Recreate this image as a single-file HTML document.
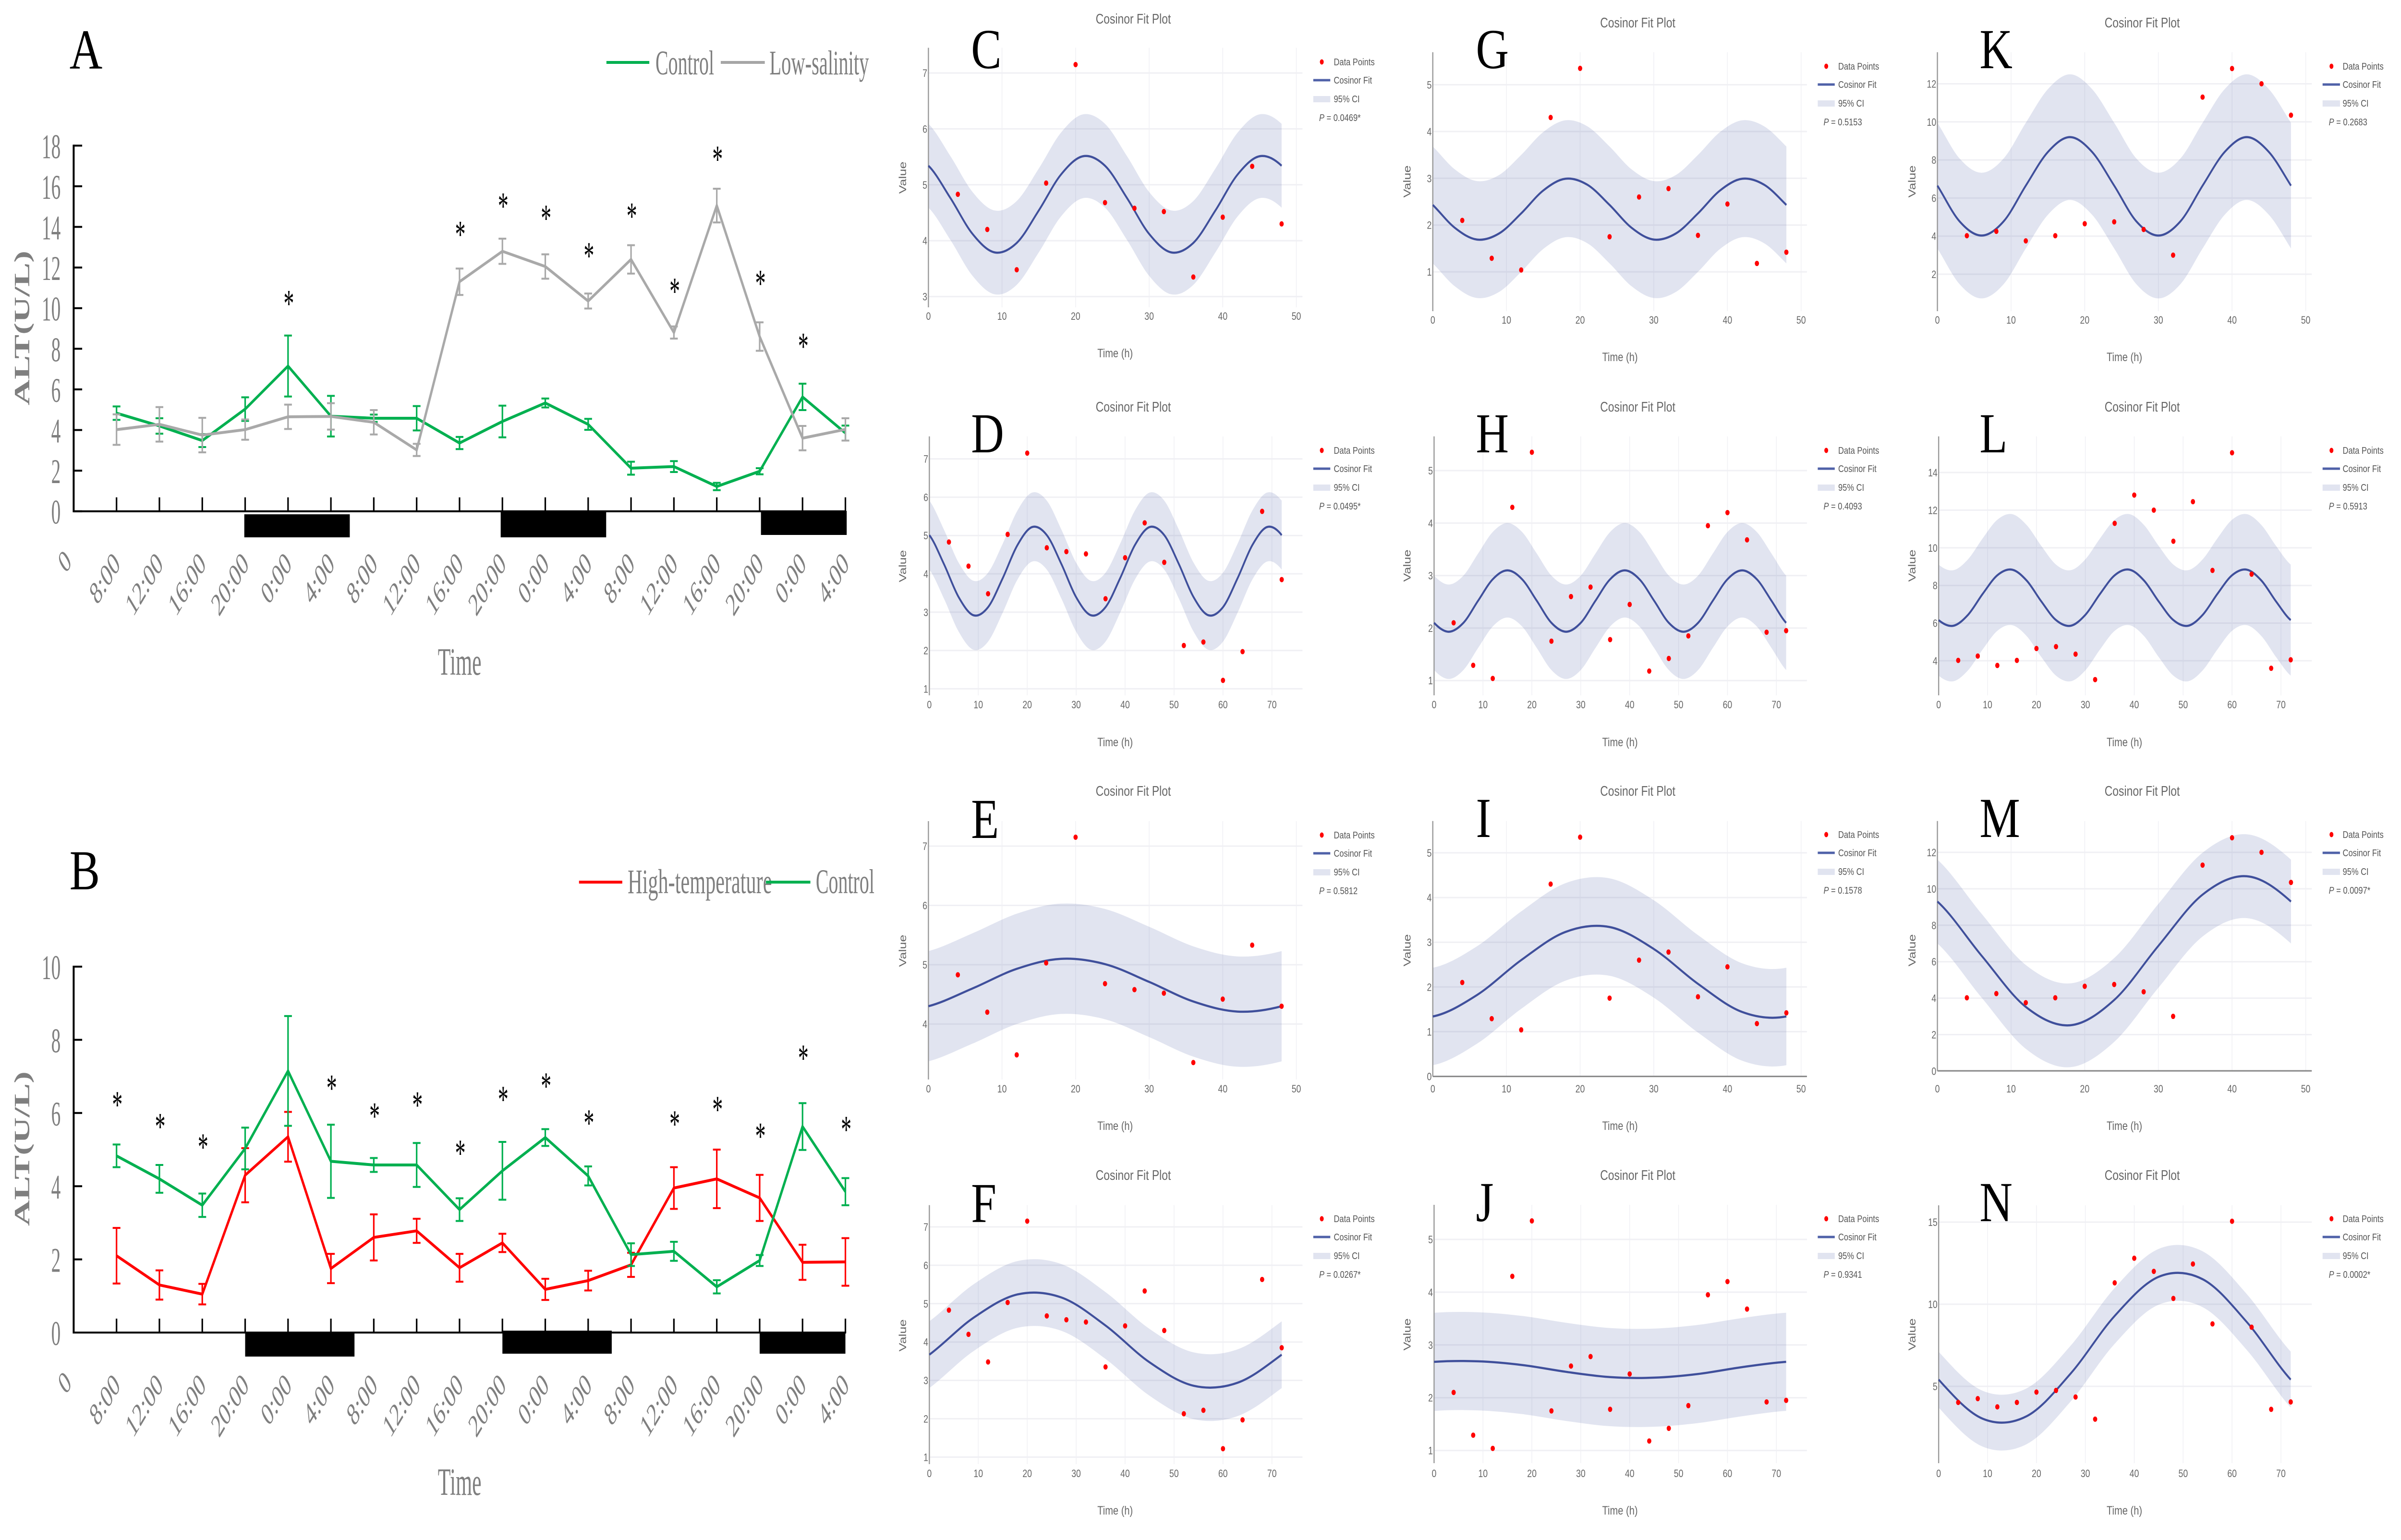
<!DOCTYPE html>
<html lang="en">
<head>
<meta charset="utf-8">
<title>ALT rhythm charts and cosinor fit plots</title>
<style>
html,body{margin:0;padding:0;background:#fff;overflow:hidden;width:100%}
svg{display:block;width:100vw;height:3207px}
text{font-family:"Liberation Sans",sans-serif}
.serif{font-family:"Liberation Serif",serif}
.letter{font-family:"Liberation Serif",serif;font-size:118px;fill:#000}
.gtext{font-family:"Liberation Serif",serif;font-size:72px;fill:#7f7f7f}
.gtitle{font-family:"Liberation Serif",serif;font-size:80px;fill:#7f7f7f;text-anchor:middle}
.galt{font-family:"Liberation Serif",serif;font-size:75px;font-weight:bold;fill:#7f7f7f;text-anchor:middle}
.ct{font-size:28.5px;fill:#666;text-anchor:middle}
.xt{font-size:25px;fill:#666;text-anchor:middle}
.yt{font-size:27px;fill:#666;text-anchor:middle}
.lg{font-size:20.5px;fill:#555}
.dot{fill:#ff0000}
.fitkey{stroke:#4f61a8;stroke-width:5}
.bandkey{fill:#e1e4f0}
</style>
</head>
<body>
<svg id="figure" xmlns="http://www.w3.org/2000/svg" viewBox="0 0 6216 3207" preserveAspectRatio="none">
<rect x="0" y="0" width="6216" height="3207" fill="#ffffff"/>
<g id="marks"></g>

<!-- Panel A text -->
<g>
<text class="letter" x="180" y="143">A</text>
<line x1="1570" x2="1681" y1="130" y2="130" stroke="#00b050" stroke-width="6"/>
<text class="gtext" transform="translate(1697,155) scale(.69,1)">Control</text>
<line x1="1866" x2="1980" y1="130" y2="130" stroke="#a6a6a6" stroke-width="6"/>
<text class="gtext" transform="translate(1992,155) scale(.7,1)">Low-salinity</text>
<text class="galt" transform="translate(76,683) scale(.75,1) rotate(-90)">ALT(U/L)</text>
<text class="gtitle" transform="translate(1190,1405) scale(.68,1)">Time</text>
</g>

<!-- Panel B text -->
<g>
<text class="letter" x="180" y="1852">B</text>
<line x1="1499" x2="1611" y1="1837" y2="1837" stroke="#ff0000" stroke-width="6"/>
<text class="gtext" transform="translate(1625,1860) scale(.73,1)">High-temperature</text>
<line x1="1983" x2="2098" y1="1837" y2="1837" stroke="#00b050" stroke-width="6"/>
<text class="gtext" transform="translate(2112,1860) scale(.69,1)">Control</text>
<text class="galt" transform="translate(76,2392) scale(.75,1) rotate(-90)">ALT(U/L)</text>
<text class="gtitle" transform="translate(1190,3113) scale(.68,1)">Time</text>
</g>

<!-- Panel C -->
<g>
<text class="letter" x="2514" y="142">C</text>
<text class="ct" x="2934" y="49">Cosinor Fit Plot</text>
<text class="xt" x="2887" y="744">Time (h)</text>
<text class="yt" transform="translate(2346,370) rotate(-90)">Value</text>
<g transform="translate(3422,129)">
<ellipse class="dot" cx="0" cy="0" rx="5" ry="5.5"/>
<text class="lg" x="31" y="7">Data Points</text>
<line class="fitkey" x1="-22" x2="22" y1="38" y2="38"/>
<text class="lg" x="31" y="45">Cosinor Fit</text>
<rect class="bandkey" x="-22" y="71" width="44" height="13"/>
<text class="lg" x="31" y="84">95% CI</text>
<text class="lg" x="-7" y="123"><tspan font-style="italic">P</tspan> = 0.0469*</text>
</g>
</g>

<!-- Panel D -->
<g>
<text class="letter" x="2514" y="942">D</text>
<text class="ct" x="2934" y="857">Cosinor Fit Plot</text>
<text class="xt" x="2887" y="1554">Time (h)</text>
<text class="yt" transform="translate(2346,1179) rotate(-90)">Value</text>
<g transform="translate(3422,938)">
<ellipse class="dot" cx="0" cy="0" rx="5" ry="5.5"/>
<text class="lg" x="31" y="7">Data Points</text>
<line class="fitkey" x1="-22" x2="22" y1="38" y2="38"/>
<text class="lg" x="31" y="45">Cosinor Fit</text>
<rect class="bandkey" x="-22" y="71" width="44" height="13"/>
<text class="lg" x="31" y="84">95% CI</text>
<text class="lg" x="-7" y="123"><tspan font-style="italic">P</tspan> = 0.0495*</text>
</g>
</g>

<!-- Panel E -->
<g>
<text class="letter" x="2514" y="1745">E</text>
<text class="ct" x="2934" y="1657">Cosinor Fit Plot</text>
<text class="xt" x="2887" y="2353">Time (h)</text>
<text class="yt" transform="translate(2346,1980) rotate(-90)">Value</text>
<g transform="translate(3422,1739)">
<ellipse class="dot" cx="0" cy="0" rx="5" ry="5.5"/>
<text class="lg" x="31" y="7">Data Points</text>
<line class="fitkey" x1="-22" x2="22" y1="38" y2="38"/>
<text class="lg" x="31" y="45">Cosinor Fit</text>
<rect class="bandkey" x="-22" y="71" width="44" height="13"/>
<text class="lg" x="31" y="84">95% CI</text>
<text class="lg" x="-7" y="123"><tspan font-style="italic">P</tspan> = 0.5812</text>
</g>
</g>

<!-- Panel F -->
<g>
<text class="letter" x="2514" y="2545">F</text>
<text class="ct" x="2934" y="2457">Cosinor Fit Plot</text>
<text class="xt" x="2887" y="3154">Time (h)</text>
<text class="yt" transform="translate(2346,2781) rotate(-90)">Value</text>
<g transform="translate(3422,2538)">
<ellipse class="dot" cx="0" cy="0" rx="5" ry="5.5"/>
<text class="lg" x="31" y="7">Data Points</text>
<line class="fitkey" x1="-22" x2="22" y1="38" y2="38"/>
<text class="lg" x="31" y="45">Cosinor Fit</text>
<rect class="bandkey" x="-22" y="71" width="44" height="13"/>
<text class="lg" x="31" y="84">95% CI</text>
<text class="lg" x="-7" y="123"><tspan font-style="italic">P</tspan> = 0.0267*</text>
</g>
</g>

<!-- Panel G -->
<g>
<text class="letter" x="3821" y="142">G</text>
<text class="ct" x="4240" y="57">Cosinor Fit Plot</text>
<text class="xt" x="4194" y="752">Time (h)</text>
<text class="yt" transform="translate(3652,378) rotate(-90)">Value</text>
<g transform="translate(4728,138)">
<ellipse class="dot" cx="0" cy="0" rx="5" ry="5.5"/>
<text class="lg" x="31" y="7">Data Points</text>
<line class="fitkey" x1="-22" x2="22" y1="38" y2="38"/>
<text class="lg" x="31" y="45">Cosinor Fit</text>
<rect class="bandkey" x="-22" y="71" width="44" height="13"/>
<text class="lg" x="31" y="84">95% CI</text>
<text class="lg" x="-7" y="123"><tspan font-style="italic">P</tspan> = 0.5153</text>
</g>
</g>

<!-- Panel H -->
<g>
<text class="letter" x="3821" y="942">H</text>
<text class="ct" x="4240" y="857">Cosinor Fit Plot</text>
<text class="xt" x="4194" y="1554">Time (h)</text>
<text class="yt" transform="translate(3652,1178) rotate(-90)">Value</text>
<g transform="translate(4728,938)">
<ellipse class="dot" cx="0" cy="0" rx="5" ry="5.5"/>
<text class="lg" x="31" y="7">Data Points</text>
<line class="fitkey" x1="-22" x2="22" y1="38" y2="38"/>
<text class="lg" x="31" y="45">Cosinor Fit</text>
<rect class="bandkey" x="-22" y="71" width="44" height="13"/>
<text class="lg" x="31" y="84">95% CI</text>
<text class="lg" x="-7" y="123"><tspan font-style="italic">P</tspan> = 0.4093</text>
</g>
</g>

<!-- Panel I -->
<g>
<text class="letter" x="3821" y="1743">I</text>
<text class="ct" x="4240" y="1657">Cosinor Fit Plot</text>
<text class="xt" x="4194" y="2353">Time (h)</text>
<text class="yt" transform="translate(3652,1979) rotate(-90)">Value</text>
<g transform="translate(4728,1738)">
<ellipse class="dot" cx="0" cy="0" rx="5" ry="5.5"/>
<text class="lg" x="31" y="7">Data Points</text>
<line class="fitkey" x1="-22" x2="22" y1="38" y2="38"/>
<text class="lg" x="31" y="45">Cosinor Fit</text>
<rect class="bandkey" x="-22" y="71" width="44" height="13"/>
<text class="lg" x="31" y="84">95% CI</text>
<text class="lg" x="-7" y="123"><tspan font-style="italic">P</tspan> = 0.1578</text>
</g>
</g>

<!-- Panel J -->
<g>
<text class="letter" x="3821" y="2543">J</text>
<text class="ct" x="4240" y="2457">Cosinor Fit Plot</text>
<text class="xt" x="4194" y="3154">Time (h)</text>
<text class="yt" transform="translate(3652,2779) rotate(-90)">Value</text>
<g transform="translate(4728,2538)">
<ellipse class="dot" cx="0" cy="0" rx="5" ry="5.5"/>
<text class="lg" x="31" y="7">Data Points</text>
<line class="fitkey" x1="-22" x2="22" y1="38" y2="38"/>
<text class="lg" x="31" y="45">Cosinor Fit</text>
<rect class="bandkey" x="-22" y="71" width="44" height="13"/>
<text class="lg" x="31" y="84">95% CI</text>
<text class="lg" x="-7" y="123"><tspan font-style="italic">P</tspan> = 0.9341</text>
</g>
</g>

<!-- Panel K -->
<g>
<text class="letter" x="5125" y="142">K</text>
<text class="ct" x="5546" y="57">Cosinor Fit Plot</text>
<text class="xt" x="5500" y="752">Time (h)</text>
<text class="yt" transform="translate(4959,378) rotate(-90)">Value</text>
<g transform="translate(6036,138)">
<ellipse class="dot" cx="0" cy="0" rx="5" ry="5.5"/>
<text class="lg" x="29" y="7">Data Points</text>
<line class="fitkey" x1="-23" x2="22" y1="38" y2="38"/>
<text class="lg" x="29" y="45">Cosinor Fit</text>
<rect class="bandkey" x="-23" y="71" width="45" height="13"/>
<text class="lg" x="29" y="84">95% CI</text>
<text class="lg" x="-7" y="123"><tspan font-style="italic">P</tspan> = 0.2683</text>
</g>
</g>

<!-- Panel L -->
<g>
<text class="letter" x="5125" y="942">L</text>
<text class="ct" x="5546" y="857">Cosinor Fit Plot</text>
<text class="xt" x="5500" y="1554">Time (h)</text>
<text class="yt" transform="translate(4959,1178) rotate(-90)">Value</text>
<g transform="translate(6036,938)">
<ellipse class="dot" cx="0" cy="0" rx="5" ry="5.5"/>
<text class="lg" x="29" y="7">Data Points</text>
<line class="fitkey" x1="-23" x2="22" y1="38" y2="38"/>
<text class="lg" x="29" y="45">Cosinor Fit</text>
<rect class="bandkey" x="-23" y="71" width="45" height="13"/>
<text class="lg" x="29" y="84">95% CI</text>
<text class="lg" x="-7" y="123"><tspan font-style="italic">P</tspan> = 0.5913</text>
</g>
</g>

<!-- Panel M -->
<g>
<text class="letter" x="5125" y="1743">M</text>
<text class="ct" x="5546" y="1657">Cosinor Fit Plot</text>
<text class="xt" x="5500" y="2353">Time (h)</text>
<text class="yt" transform="translate(4959,1979) rotate(-90)">Value</text>
<g transform="translate(6036,1738)">
<ellipse class="dot" cx="0" cy="0" rx="5" ry="5.5"/>
<text class="lg" x="29" y="7">Data Points</text>
<line class="fitkey" x1="-23" x2="22" y1="38" y2="38"/>
<text class="lg" x="29" y="45">Cosinor Fit</text>
<rect class="bandkey" x="-23" y="71" width="45" height="13"/>
<text class="lg" x="29" y="84">95% CI</text>
<text class="lg" x="-7" y="123"><tspan font-style="italic">P</tspan> = 0.0097*</text>
</g>
</g>

<!-- Panel N -->
<g>
<text class="letter" x="5125" y="2543">N</text>
<text class="ct" x="5546" y="2457">Cosinor Fit Plot</text>
<text class="xt" x="5500" y="3154">Time (h)</text>
<text class="yt" transform="translate(4959,2779) rotate(-90)">Value</text>
<g transform="translate(6036,2538)">
<ellipse class="dot" cx="0" cy="0" rx="5" ry="5.5"/>
<text class="lg" x="29" y="7">Data Points</text>
<line class="fitkey" x1="-23" x2="22" y1="38" y2="38"/>
<text class="lg" x="29" y="45">Cosinor Fit</text>
<rect class="bandkey" x="-23" y="71" width="45" height="13"/>
<text class="lg" x="29" y="84">95% CI</text>
<text class="lg" x="-7" y="123"><tspan font-style="italic">P</tspan> = 0.0002*</text>
</g>
</g>
</svg>

<script>
// ---------- Panels A and B: categories, series and error values ----------
const timeCategories = ['8:00','12:00','16:00','20:00','0:00','4:00','8:00','12:00','16:00','20:00','0:00','4:00','8:00','12:00','16:00','20:00','0:00','4:00'];
const yTicksA = [0,2,4,6,8,10,12,14,16,18];
const yTicksB = [0,2,4,6,8,10];

const controlValuesA = [4.83,4.2,3.48,5.03,7.15,4.68,4.58,4.58,3.36,4.42,5.33,4.28,2.12,2.2,1.22,1.97,5.63,3.85];
const controlErrorsA = [0.33,0.38,0.32,0.58,1.5,1.0,0.18,0.6,0.3,0.78,0.22,0.27,0.32,0.27,0.18,0.15,0.65,0.37];
const lowSalinityValues = [4.02,4.28,3.75,4.02,4.65,4.67,4.38,3.02,11.3,12.8,12.05,10.35,12.4,8.8,15.05,8.6,3.6,4.03];
const lowSalinityErrors = [0.75,0.85,0.85,0.5,0.6,0.65,0.6,0.3,0.65,0.62,0.6,0.37,0.7,0.3,0.83,0.7,0.6,0.55];
const starIndexA = [4,8,9,10,11,12,13,14,15,16];
const starLevelA = [10.5,13.9,15.3,14.7,12.85,14.8,11.1,17.6,11.5,8.4];
const nightStartsA = [3.98,9.96,16.03];
const nightEndsA = [6.44,12.42,18.03];

const controlValuesB = [4.83,4.2,3.48,5.03,7.15,4.68,4.58,4.58,3.36,4.42,5.33,4.28,2.13,2.22,1.25,1.97,5.63,3.85];
const controlErrorsB = [0.31,0.38,0.32,0.57,1.5,1.0,0.19,0.6,0.31,0.79,0.23,0.26,0.31,0.26,0.18,0.15,0.64,0.37];
const highTempValues = [2.1,1.3,1.05,4.3,5.35,1.75,2.6,2.78,1.77,2.45,1.18,1.42,1.85,3.95,4.2,3.68,1.92,1.93];
const highTempErrors = [0.76,0.4,0.28,0.74,0.68,0.4,0.63,0.33,0.38,0.25,0.29,0.27,0.33,0.57,0.8,0.63,0.48,0.65];
const starIndexB = [0,1,2,5,6,7,8,9,10,11,13,14,15,16,17];
const starLevelB = [6.38,5.78,5.22,6.83,6.07,6.37,5.05,6.52,6.89,5.88,5.85,6.25,5.52,7.65,5.7];
const nightStartsB = [4,10,16];
const nightEndsB = [6.55,12.55,18];

// ---------- Cosinor panels: measured points ----------
const hours48 = [4,8,12,16,20,24,28,32,36,40,44,48];
const hours72 = [4,8,12,16,20,24,28,32,36,40,44,48,52,56,60,64,68,72];
const pointsControl48 = [4.83,4.2,3.48,5.03,7.15,4.68,4.58,4.52,3.35,4.42,5.33,4.3];
const pointsControl72 = [4.83,4.2,3.48,5.03,7.15,4.68,4.58,4.52,3.35,4.42,5.33,4.3,2.13,2.22,1.22,1.97,5.63,3.85];
const pointsHigh48 = [2.1,1.29,1.04,4.3,5.35,1.75,2.6,2.78,1.78,2.45,1.18,1.42];
const pointsHigh72 = [2.1,1.29,1.04,4.3,5.35,1.75,2.6,2.78,1.78,2.45,1.18,1.42,1.85,3.95,4.2,3.68,1.92,1.95];
const pointsLow48 = [4.02,4.25,3.75,4.02,4.65,4.75,4.35,3.0,11.3,12.8,12.0,10.35];
const pointsLow72 = [4.02,4.25,3.75,4.02,4.65,4.75,4.35,3.0,11.3,12.8,12.0,10.35,12.45,8.8,15.05,8.6,3.6,4.05];

// ---------- Cosinor panels: fit curves read at sample hours ----------
const fitHours3h48 = [0,3,6,9,12,15,18,21,24,27,30,33,36,39,42,45,48];
const fitHours3h72 = [0,3,6,9,12,15,18,21,24,27,30,33,36,39,42,45,48,51,54,57,60,63,66,69,72];
const fitHours6h48 = [0,6,12,18,24,30,36,42,48];
const fitHours9h72 = [0,9,18,27,36,45,54,63,72];

const fitC = [5.34,4.76,4.12,3.79,3.96,4.54,5.18,5.51,5.34,4.76,4.12,3.79,3.96,4.54,5.18,5.51,5.34];
const fitD = [5.01,4.25,3.39,2.92,3.13,3.89,4.75,5.22,5.01,4.25,3.39,2.92,3.13,3.89,4.75,5.22,5.01,4.25,3.39,2.92,3.13,3.89,4.75,5.22,5.01];
const fitE = [4.30,4.60,4.93,5.10,5.01,4.71,4.38,4.21,4.30];
const fitF = [3.67,4.63,5.24,5.16,4.43,3.47,2.86,2.94,3.67];
const fitG = [2.43,1.94,1.69,1.82,2.25,2.74,2.99,2.86,2.43,1.94,1.69,1.82,2.25,2.74,2.99,2.86,2.43];
const fitH = [2.10,1.93,2.10,2.52,2.93,3.10,2.93,2.52,2.10,1.93,2.10,2.52,2.93,3.10,2.93,2.52,2.10,1.93,2.10,2.52,2.93,3.10,2.93,2.52,2.10];
const fitI = [1.34,1.82,2.60,3.23,3.34,2.85,2.07,1.44,1.34];
const fitJ = [2.68,2.69,2.62,2.49,2.39,2.38,2.45,2.58,2.68];
const fitK = [6.65,4.78,4.03,4.78,6.65,8.42,9.2,8.42,6.65,4.78,4.03,4.78,6.65,8.42,9.2,8.42,6.65];
const fitL = [6.16,5.86,6.44,7.55,8.54,8.84,8.26,7.15,6.16,5.86,6.44,7.55,8.54,8.84,8.26,7.15,6.16,5.86,6.44,7.55,8.54,8.84,8.26,7.15,6.16];
const fitM = [9.30,6.33,3.52,2.51,3.90,6.87,9.68,10.69,9.30];
const fitN = [5.41,3.03,3.18,5.78,9.29,11.67,11.52,8.92,5.41];

// 95% CI half-widths around each fit
const ciHalfC = [0.75];
const ciHalfD = [0.9];
const ciHalfE = [0.93];
const ciHalfF = [0.87];
const ciHalfG = [1.25];
const ciHalfH = [0.9];
const ciHalfI = [1.09];
const ciHalfJ = [0.93];
const ciHalfK = [3.3];
const ciHalfL = [2.95];
const ciHalfM = [2.3];
const ciHalfN = [1.7];

// Tick labels
const xTicks48 = [0,10,20,30,40,50];
const xTicks72 = [0,10,20,30,40,50,60,70];
const yTicksC = [3,4,5,6,7];
const yTicksD = [1,2,3,4,5,6,7];
const yTicksE = [4,5,6,7];
const yTicksG = [1,2,3,4,5];
const yTicksI = [0,1,2,3,4,5];
const yTicksK = [2,4,6,8,10,12];
const yTicksL = [4,6,8,10,12,14];
const yTicksM = [0,2,4,6,8,10,12];
const yTicksN = [5,10,15];

// ---------- Drawing helpers ----------
const NS = 'http://www.w3.org/2000/svg';
const root = document.getElementById('marks');
function svgEl(tag, attrs, parent) {
  const node = document.createElementNS(NS, tag);
  for (const key in attrs) node.setAttribute(key, attrs[key]);
  (parent || root).appendChild(node);
  return node;
}
function smooth(pts) {
  // Catmull-Rom through the read samples; end tangents wrap because each curve spans whole periods
  const n = pts.length;
  let d = '';
  for (let i = 0; i < n - 1; i++) {
    const p1 = pts[i], p2 = pts[i + 1];
    const p0 = i > 0 ? pts[i - 1] : [2 * p1[0] - p2[0], pts[n - 2][1]];
    const p3 = i < n - 2 ? pts[i + 2] : [2 * p2[0] - p1[0], pts[1][1]];
    const c1x = p1[0] + (p2[0] - p0[0]) / 6, c1y = p1[1] + (p2[1] - p0[1]) / 6;
    const c2x = p2[0] - (p3[0] - p1[0]) / 6, c2y = p2[1] - (p3[1] - p1[1]) / 6;
    d += ' C' + c1x.toFixed(1) + ' ' + c1y.toFixed(1) + ' ' + c2x.toFixed(1) + ' ' + c2y.toFixed(1) + ' ' + p2[0].toFixed(1) + ' ' + p2[1].toFixed(1);
  }
  return d;
}

// ---------- Excel-style panels ----------
function drawExcelPanel(cfg) {
  const xCat = function (k) { return cfg.x0 + k * cfg.step; };
  const xVal = function (i) { return xCat(i + 1); };
  const yVal = function (v) { return cfg.y0 - v * cfg.unit; };

  // axis lines
  const yAxis = svgEl('line', {x1: cfg.x0, x2: cfg.x0, y1: yVal(cfg.yTicks[cfg.yTicks.length - 1]) - 2, y2: cfg.y0 + 2, stroke: '#000', 'stroke-width': 5});
  
  
  const xAxis = svgEl('line', {x1: cfg.x0, x2: xCat(18) + 2, y1: cfg.y0, y2: cfg.y0, stroke: '#000', 'stroke-width': 4});
  
  

  // y ticks and labels
  cfg.yTicks.forEach(function (v) {
    const tick = svgEl('line', {x1: cfg.x0, x2: cfg.x0 + 22, y1: yVal(v), y2: yVal(v), stroke: '#000', 'stroke-width': 4});
    
    
    const label = svgEl('text', {'class': 'gtext', 'text-anchor': 'end', transform: 'translate(157,' + (yVal(v) + 26) + ') scale(.68,1)'});
    label.textContent = String(v);
    
    
  });

  // origin label
  const originLabel = svgEl('text', {'class': 'gtext', 'text-anchor': 'end', style: 'font-size:67px', transform: 'translate(' + (cfg.x0 - 3) + ',' + (cfg.y0 + 108) + ') scale(.74,1) rotate(-45)'});
  originLabel.textContent = '0';
  
  

  // x ticks and labels
  timeCategories.forEach(function (c, i) {
    const tick = svgEl('line', {x1: xVal(i), x2: xVal(i), y1: cfg.y0 - 29, y2: cfg.y0, stroke: '#000', 'stroke-width': 4});
    
    
    const label = svgEl('text', {'class': 'gtext', 'text-anchor': 'end', style: 'font-size:67px', transform: 'translate(' + (xVal(i) + 12) + ',' + (cfg.y0 + 113) + ') scale(.74,1) rotate(-45)'});
    label.textContent = c;
    
    
  });

  // night bars
  cfg.nightStarts.forEach(function (s, i) {
    const bar = svgEl('rect', {x: xCat(s), y: cfg.nightTop[i], width: xCat(cfg.nightEnds[i]) - xCat(s), height: cfg.nightHeight[i], fill: '#000'});
    
    
  });

  // series
  cfg.series.forEach(function (s) {
    const group = svgEl('g', {});
    
    
    s.values.forEach(function (v, i) {
      const x = xVal(i);
      const err = s.errors[i];
      const stem = svgEl('line', {x1: x, x2: x, y1: yVal(v + err), y2: yVal(v - err), stroke: s.color, 'stroke-width': 4}, group);
      
      
      const capTop = svgEl('line', {x1: x - 10, x2: x + 10, y1: yVal(v + err), y2: yVal(v + err), stroke: s.color, 'stroke-width': 4}, group);
      
      
      const capBottom = svgEl('line', {x1: x - 10, x2: x + 10, y1: yVal(v - err), y2: yVal(v - err), stroke: s.color, 'stroke-width': 4}, group);
      
      
    });
    const pts = s.values.map(function (v, i) { return xVal(i).toFixed(1) + ',' + yVal(v).toFixed(1); }).join(' ');
    const line = svgEl('polyline', {points: pts, fill: 'none', stroke: s.color, 'stroke-width': 6, 'stroke-linejoin': 'miter'}, group);
    
    
  });

  // significance stars
  cfg.starIndex.forEach(function (idx, i) {
    const star = svgEl('text', {'class': 'serif', 'text-anchor': 'middle', style: 'font-size:80px', fill: '#000', transform: 'translate(' + (xVal(idx) + 2) + ',' + (yVal(cfg.starLevel[i]) + 38) + ') scale(.68,1)'});
    star.textContent = '*';
    
    
  });
}

drawExcelPanel({
  x0: 190.7, step: 111, y0: 1064.7, unit: 42.3, yTicks: yTicksA,
  nightStarts: nightStartsA, nightEnds: nightEndsA, nightTop: [1071,1064,1064], nightHeight: [48,55,50],
  starIndex: starIndexA, starLevel: starLevelA,
  series: [
    {name: 'control', color: '#00b050', values: controlValuesA, errors: controlErrorsA},
    {name: 'low-salinity', color: '#a9a9a9', values: lowSalinityValues, errors: lowSalinityErrors}
  ]
});
drawExcelPanel({
  x0: 190.7, step: 111, y0: 2775, unit: 76.2, yTicks: yTicksB,
  nightStarts: nightStartsB, nightEnds: nightEndsB, nightTop: [2775,2771,2775], nightHeight: [50,48,44],
  starIndex: starIndexB, starLevel: starLevelB,
  series: [
    {name: 'high-temperature', color: '#ff0000', values: highTempValues, errors: highTempErrors},
    {name: 'control', color: '#00b050', values: controlValuesB, errors: controlErrorsB}
  ]
});

// ---------- Cosinor panels ----------
function drawCosinor(cfg) {
  const xH = function (t) { return cfg.x0 + t * cfg.xUnit; };
  const yV = function (v) { return cfg.yRefPx - (v - cfg.yRefVal) * cfg.yUnit; };
  const group = svgEl('g', {});
  
  

  cfg.xTicks.forEach(function (t) {
    const grid = svgEl('line', {x1: xH(t), x2: xH(t), y1: cfg.top, y2: cfg.bottom, stroke: '#f1f1f5', 'stroke-width': 2}, group);
    
    
    const label = svgEl('text', {x: xH(t), y: cfg.xLabelY, 'text-anchor': 'middle', 'font-size': 22, fill: '#666'}, group);
    label.textContent = String(t);
    
    
  });
  cfg.yTicks.forEach(function (v) {
    const grid = svgEl('line', {x1: cfg.x0, x2: cfg.right, y1: yV(v), y2: yV(v), stroke: '#f0f0f4', 'stroke-width': 3}, group);
    
    
    const label = svgEl('text', {x: cfg.x0 - 3, y: yV(v) + 8, 'text-anchor': 'end', 'font-size': 22, fill: '#666'}, group);
    label.textContent = String(v);
    
    
  });

  const half = cfg.ciHalf[0];
  const upper = cfg.fitHours.map(function (t, i) { return [xH(t), yV(cfg.fit[i] + half)]; });
  const lower = cfg.fitHours.map(function (t, i) { return [xH(t), yV(cfg.fit[i] - half)]; }).reverse();
  const bandPath = 'M' + upper[0][0] + ' ' + upper[0][1] + smooth(upper) + ' L' + lower[0][0] + ' ' + lower[0][1] + smooth(lower) + ' Z';
  const band = svgEl('path', {d: bandPath, fill: 'rgb(68,84,160)', 'fill-opacity': 0.16}, group);
  
  

  const yAxis = svgEl('line', {x1: cfg.x0, x2: cfg.x0, y1: cfg.top, y2: cfg.bottom, stroke: '#999', 'stroke-width': 3}, group);
  
  
  if (cfg.hasXAxis) {
    const xAxis = svgEl('line', {x1: cfg.x0, x2: cfg.right, y1: cfg.bottom, y2: cfg.bottom, stroke: '#888', 'stroke-width': 3}, group);
    
    
  }

  const fitPts = cfg.fitHours.map(function (t, i) { return [xH(t), yV(cfg.fit[i])]; });
  const fitLine = svgEl('path', {d: 'M' + fitPts[0][0] + ' ' + fitPts[0][1] + smooth(fitPts), fill: 'none', stroke: '#3f4f9b', 'stroke-width': 4.5}, group);
  
  

  cfg.hours.forEach(function (t, i) {
    const dot = svgEl('ellipse', {cx: xH(t), cy: yV(cfg.points[i]), rx: 5.5, ry: 5.5, fill: '#ff0000'}, group);
    
    
  });
}

drawCosinor({id:'c', x0:2403.6, xUnit:19.05, yRefVal:7, yRefPx:152, yUnit:116.4, top:99.5, bottom:640, right:3372, xLabelY:666, xTicks:xTicks48, yTicks:yTicksC, hours:hours48, points:pointsControl48, fitHours:fitHours3h48, fit:fitC, ciHalf:ciHalfC});
drawCosinor({id:'d', x0:2406, xUnit:12.67, yRefVal:7, yRefPx:955.6, yUnit:79.8, top:908.7, bottom:1448, right:3372, xLabelY:1475, xTicks:xTicks72, yTicks:yTicksD, hours:hours72, points:pointsControl72, fitHours:fitHours3h72, fit:fitD, ciHalf:ciHalfD});
drawCosinor({id:'e', x0:2403.6, xUnit:19.05, yRefVal:7, yRefPx:1762, yUnit:123.5, top:1710, bottom:2248, right:3372, xLabelY:2275, xTicks:xTicks48, yTicks:yTicksE, hours:hours48, points:pointsControl48, fitHours:fitHours6h48, fit:fitE, ciHalf:ciHalfE});
drawCosinor({id:'f', x0:2406, xUnit:12.67, yRefVal:7, yRefPx:2555, yUnit:79.9, top:2509.6, bottom:3049, right:3372, xLabelY:3076, xTicks:xTicks72, yTicks:yTicksD, hours:hours72, points:pointsControl72, fitHours:fitHours9h72, fit:fitF, ciHalf:ciHalfF});
drawCosinor({id:'g', x0:3709.4, xUnit:19.07, yRefVal:5, yRefPx:176.5, yUnit:97.4, top:108.7, bottom:648, right:4678, xLabelY:674, xTicks:xTicks48, yTicks:yTicksG, hours:hours48, points:pointsHigh48, fitHours:fitHours3h48, fit:fitG, ciHalf:ciHalfG});
drawCosinor({id:'h', x0:3712.7, xUnit:12.66, yRefVal:5, yRefPx:980, yUnit:109.3, top:908.7, bottom:1448, right:4678, xLabelY:1475, xTicks:xTicks72, yTicks:yTicksG, hours:hours72, points:pointsHigh72, fitHours:fitHours3h72, fit:fitH, ciHalf:ciHalfH});
drawCosinor({id:'i', x0:3709.4, xUnit:19.07, yRefVal:5, yRefPx:1776, yUnit:93.1, top:1709.7, bottom:2241.6, right:4678, xLabelY:2275, xTicks:xTicks48, yTicks:yTicksI, hours:hours48, points:pointsHigh48, fitHours:fitHours6h48, fit:fitI, ciHalf:ciHalfI, hasXAxis:true});
drawCosinor({id:'j', x0:3712.7, xUnit:12.66, yRefVal:5, yRefPx:2581, yUnit:109.9, top:2509, bottom:3047, right:4678, xLabelY:3076, xTicks:xTicks72, yTicks:yTicksG, hours:hours72, points:pointsHigh72, fitHours:fitHours9h72, fit:fitJ, ciHalf:ciHalfJ});
drawCosinor({id:'k', x0:5015.8, xUnit:19.07, yRefVal:12, yRefPx:174.5, yUnit:39.65, top:108.7, bottom:648, right:5985, xLabelY:674, xTicks:xTicks48, yTicks:yTicksK, hours:hours48, points:pointsLow48, fitHours:fitHours3h48, fit:fitK, ciHalf:ciHalfK});
drawCosinor({id:'l', x0:5019, xUnit:12.66, yRefVal:14, yRefPx:984, yUnit:39.2, top:908.7, bottom:1448, right:5985, xLabelY:1475, xTicks:xTicks72, yTicks:yTicksL, hours:hours72, points:pointsLow72, fitHours:fitHours3h72, fit:fitL, ciHalf:ciHalfL});
drawCosinor({id:'m', x0:5015.8, xUnit:19.07, yRefVal:12, yRefPx:1775, yUnit:37.95, top:1709.7, bottom:2230, right:5985, xLabelY:2275, xTicks:xTicks48, yTicks:yTicksM, hours:hours48, points:pointsLow48, fitHours:fitHours6h48, fit:fitM, ciHalf:ciHalfM, hasXAxis:true});
drawCosinor({id:'n', x0:5019, xUnit:12.66, yRefVal:15, yRefPx:2545, yUnit:34.2, top:2510, bottom:3047, right:5985, xLabelY:3076, xTicks:xTicks72, yTicks:yTicksN, hours:hours72, points:pointsLow72, fitHours:fitHours9h72, fit:fitN, ciHalf:ciHalfN});
</script>
</body>
</html>
